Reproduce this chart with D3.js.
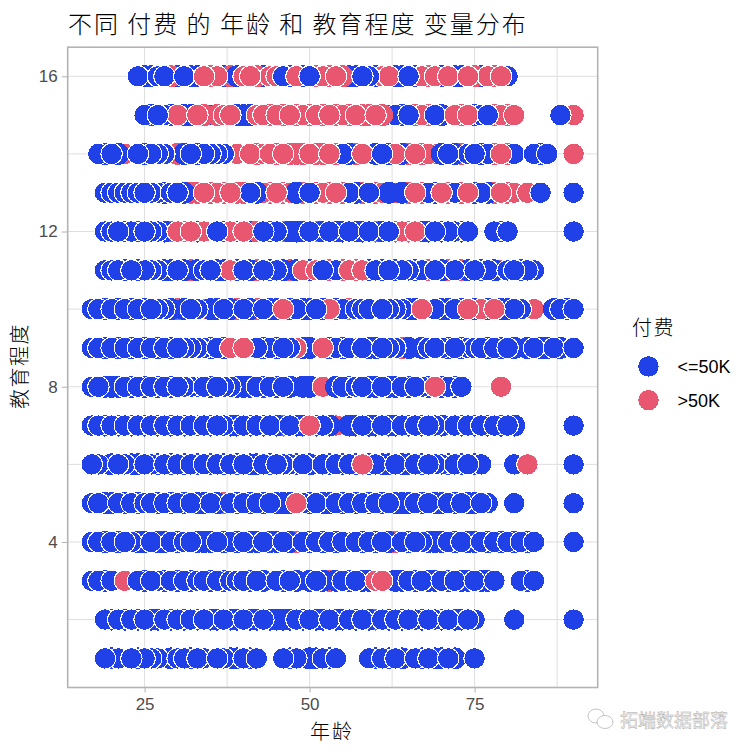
<!DOCTYPE html>
<html><head><meta charset="utf-8">
<script src="https://cdn.jsdelivr.net/npm/d3@7"></script>
<style>
html,body{margin:0;padding:0;background:#fff}
svg{display:block}
.cjk{font-family:"Noto Sans CJK SC","Noto Sans CJK JP",sans-serif;font-weight:300;fill:#000}
.lat{font-family:"Liberation Sans",Arial,sans-serif}
</style></head><body>
<svg id="c" width="753" height="753"></svg>
<script>
const payLevels = ["<=50K", ">50K"];
const L = payLevels[0], H = payLevels[1];
const payColors = ["#2040E8", "#E85670"];
const xMajor = [25, 50, 75], xMinor = [37.5, 62.5, 87.5];
const yMajor = [4, 8, 12, 16], yMinor = [2, 6, 10, 14];
const titleText = "不同 付费 的 年龄 和 教育程度 变量分布";
const xTitle = "年龄", yTitle = "教育程度", legendTitle = "付费", watermark = "拓端数据部落";

// Each education level: runs of [pay class, ages] in drawing order (later runs sit on top).
const edu16 = [
 [L,[24,25,26,27,30,32,33,37,43,47,49,56,57,60,63,64,66,70,72,73,76,80]],
 [H,[29,35,38,42,44,51,53,55,61,62,68,67,69,75,77,78]],
 [L,[28,31,39,59,58,65]],
 [H,[36,34,40,41,45]],
 [L,[46]],
 [H,[48,52,54,71,74,79]],
 [L,[50]]
];
const edu15 = [
 [L,[25,26,28,29,31,32,35,39,40,41,62,63,64,69,70,75,76]],
 [H,[30,34,36,38,42,44,46,48,49,50,51,52,54,55,56,58,59,61,66,67,68,73,78,80,90]],
 [L,[27,65,69]],
 [H,[33,37,38,43,45,47,53,57,60,72,74,79,81]],
 [L,[77,88]]
];
const edu14 = [
 [H,[22,30,39,42,43,45,47,48,49,51,52,54,57,65,67,69,68,73,78,80,90]],
 [L,[19,18,21,20,28,27,26,25,24,31,37,36,35,34,33,32,55,56,60,64,62,77,76,74,75,72,71,70,81,85,84,86]],
 [H,[41,44,46,50,53,58,63,66,79]],
 [L,[61]]
];
const edu13 = [
 [H,[32,33,35,37,39,40,43,44,46,47,49,51,52,53,55,58,60,61,63,65,67,71,73,78,80,81,83]],
 [L,[19,20,21,22,23,24,27,26,25,29,28,31,30,42,41,48,50,57,56,59,62,64,68,69,72,76,75,77,85,90]],
 [H,[36,34,38,45,54,66,70,74,79]]
];
const edu12 = [
 [H,[29,46,51,60,63]],
 [L,[19,20,24,23,22,21,28,27,26,25,33,37,39,41,44,45,47,49,48,52,54,55,57,58,61,67,68,70,72,71,73,78,79,90]],
 [H,[31,30,34,32,38,40,42,64,65,66]],
 [L,[36,43,50,53,56,59,62,69,74,80]]
];
const edu11 = [
 [H,[32,42,47,53,55,57,68,71,73,79]],
 [L,[19,20,21,22,27,26,25,24,29,28,31,33,34,36,37,39,41,44,46,45,48,50,54,59,61,63,67,66,65,64,70,72,74,78,77,76,80,84,83,82]],
 [H,[38,49,51,56,58]],
 [L,[23,30,35,40,43,52,60,62,69,75,81]]
];
const edu10 = [
 [H,[30,34,39,42,56,84]],
 [L,[17,19,18,21,20,23,22,25,24,28,27,26,29,31,33,32,36,35,38,37,41,40,44,43,45,47,48,50,49,52,55,54,57,58,59,64,63,62,61,65,66,69,70,71,72,73,75,77,79,80,82,81,87,89,88,90]],
 [H,[46,53,67,76,74,78]],
 [L,[51]]
];
const edu9 = [
 [L,[50,49]],
 [H,[48,57,64]],
 [L,[17,19,18,21,20,23,22,25,24,27,26,29,28,34,33,32,31,30,36,35,37,44,43,42,47,46,45,54,53,56,55,60,59,58,63,62,61,65,67,68,70,69,71,73,74,75,76,72,77,79,78,81,80,83,84,86,85,87,88,90]],
 [H,[38,40,52]]
];
const edu8 = [
 [L,[49,50]],
 [H,[52]],
 [L,[17,19,18,21,20,23,22,25,24,27,26,29,28,33,32,31,30,35,34,38,37,36,41,40,39,43,42,45,44,47,46,54,56,55,57,58,60,59,62,61,63,65,64,67,66,68,70,71,72,73]],
 [H,[69,79]]
];
const edu7 = [
 [H,[46,54]],
 [L,[17,19,18,21,20,22,23,25,24,27,26,29,28,31,30,33,32,35,34,38,37,36,39,41,40,43,42,45,44,48,47,49,51,53,52]],
 [H,[50]],
 [L,[56,57,59,58,60,63,62,61,65,64,67,66,70,69,68,73,72,75,74,77,76,79,78,81,80,90]]
];
const edu6 = [
 [L,[18,17,22,21,20,24,23,27,26,25,29,28,31,30,33,32,35,34,37,36,39,38,42,41,40,44,43,47,46,45,49,48,50,53,52,55,54,57,56,59,61,60,65,64,63,62,67,66,71,70,69,68,73,72,76,75,74,81,90]],
 [H,[58,83]]
];
const edu5 = [
 [H,[37]],
 [L,[17,19,18,20,22,21,24,23,25,27,26,29,28,31,30,33,32,34,36,35,39,38,41,40,43,42,45,44,47,46,50,49,52,51,53,55,54,57,56,59,58,61,60,63,62,65,64,67,66,68,70,69,72,71,74,73,75,77,76,81,90]],
 [H,[48]]
];
const edu4 = [
 [H,[48,63]],
 [L,[17,19,18,21,20,23,22,25,24,28,27,26,30,29,31,33,32,35,34,38,37,36,39,41,40,44,43,42,45,47,46,49,50,52,51,54,53,56,55,57,58,60,59,62,61,65,64,67,66,68,70,69,72,71,74,73,75,77,76,79,78,81,80,82,83,84,90]]
];
const edu3 = [
 [H,[53]],
 [L,[17,18,20,19]],
 [H,[22]],
 [L,[25,24,28,27,26,30,29,32,31,33,35,34,37,36,38,39,41,40,43,42,46,45,48,47,50,52,51,54,55,57,56,59,58,64,63,66,65,69,68,67,71,70,73,72,74,76,75,77,78,82,83,84]],
 [H,[60,61]]
];
const edu2 = [
 [H,[60]],
 [L,[19,21,20,24,23,22,26,25,29,28,27,31,30,33,32,35,34,38,37,36,39,41,40,44,43,42,46,45,49,48,47,51,50,54,53,52,55,57,56,59,58,62,61,64,63,66,65,67,69,68,72,71,70,73,75,74,81,90]]
];
const edu1 = [
 [L,[21,20,19,27,26,25,24,23,29,30,32,31,34,33,37,36,38,39,41,40,42,48,47,46,51,50,53,52,54,60,59,62,61,64,63,67,66,69,68,70,72,71,75]]
];
const eduRows = [edu1,edu2,edu3,edu4,edu5,edu6,edu7,edu8,edu9,edu10,edu11,edu12,edu13,edu14,edu15,edu16];

// Ages, per education level, where a point's outline is still readable in the overplot.
const visible1 = [19,21,23,25,26,27,30,31,33,34,36,37,40,42,46,48,49,52,54,59,61,63,66,68,71,75];
const visible2 = [19,21,23,25,28,30,32,34,37,40,43,48,50,53,56,58,61,63,65,66,68,69,71,74,75,81,90];
const visible3 = [17,18,20,22,24,26,27,29,31,33,34,36,38,39,40,42,45,47,49,51,55,57,60,61,65,67,70,72,75,78,82,84];
const visible4 = [17,18,20,22,23,26,29,31,32,36,38,40,43,46,49,51,53,55,56,57,59,61,64,66,67,71,73,76,78,80,82,84,90];
const visible5 = [17,18,21,23,25,26,28,30,32,35,38,40,42,44,48,49,51,54,56,58,60,62,66,68,71,73,76,77,81,90];
const visible6 = [17,18,21,22,25,26,28,30,32,34,36,38,40,43,45,46,47,49,52,54,56,58,60,63,66,68,69,70,72,74,76,81,83,90];
const visible7 = [17,18,20,22,24,26,28,30,32,33,34,36,37,40,42,44,47,50,52,54,58,61,64,66,68,69,72,74,76,78,80,90];
const visible8 = [17,18,22,24,26,28,30,31,32,33,34,36,37,38,42,44,46,52,55,57,58,61,64,66,67,69,71,73,79];
const visible9 = [17,18,20,22,24,26,28,30,31,32,33,34,36,38,40,42,44,46,47,48,52,54,56,57,58,61,62,63,66,68,69,70,72,74,75,76,78,80,82,84,87,90];
const visible10 = [17,18,20,22,24,26,27,28,32,33,34,37,40,43,46,48,51,53,55,57,58,59,61,62,63,64,67,69,72,74,76,78,81,82,84,88,90];
const visible11 = [19,20,21,23,25,26,27,30,34,35,38,40,43,45,49,51,52,54,56,58,60,62,64,65,67,69,72,75,77,79,80,81,83,84];
const visible12 = [19,20,21,23,25,26,27,30,32,34,36,38,39,40,43,45,50,53,56,59,62,64,66,69,71,72,74,78,80,90];
const visible13 = [19,20,21,22,23,24,25,26,27,29,30,34,36,38,41,43,45,47,50,52,54,56,59,61,63,66,68,70,72,74,76,79,81,83,85,90];
const visible14 = [18,20,22,24,26,27,28,32,34,35,36,37,39,41,43,44,46,50,53,55,58,61,63,66,68,69,71,74,75,77,79,81,84,86,90];
const visible15 = [25,27,28,30,33,35,37,38,42,43,45,47,49,51,53,55,57,60,62,63,65,67,69,72,74,76,77,79,81,88,90];
const visible16 = [24,27,28,31,34,36,40,41,44,45,46,48,50,52,54,58,59,61,62,65,67,69,71,74,77,79,80];
const visibleRows = [visible1,visible2,visible3,visible4,visible5,visible6,visible7,visible8,visible9,visible10,visible11,visible12,visible13,visible14,visible15,visible16];

const svg = d3.select("#c");
const pl = 67.7, pr = 597.7, pt = 47.2, pb = 687.5;
const x = d3.scaleLinear().domain([13.35, 93.65]).range([pl, pr]);
const y = d3.scaleLinear().domain([0.25, 16.75]).range([pb, pt]);
const color = d3.scaleOrdinal().domain(payLevels).range(payColors);

const grid = svg.append("g").attr("stroke", "#dedede").attr("stroke-width", 1);
grid.selectAll(".vg").data(xMajor.concat(xMinor)).join("line").attr("class","vg")
  .attr("x1", d => x(d)).attr("x2", d => x(d)).attr("y1", pt).attr("y2", pb);
grid.selectAll(".hg").data(yMajor.concat(yMinor)).join("line").attr("class","hg")
  .attr("x1", pl).attr("x2", pr).attr("y1", d => y(d)).attr("y2", d => y(d));

const marks = [];
eduRows.forEach((runs, i) => {
  const seen = new Set(visibleRows[i]);
  runs.forEach(([pay, ages]) => {
    // Within a run the points with no readable outline go down first.
    ages.filter(a => !seen.has(a)).forEach(age => marks.push({level: i + 1, pay, age, ring: false}));
    ages.filter(a => seen.has(a)).forEach(age => marks.push({level: i + 1, pay, age, ring: true}));
  });
});

svg.append("g").selectAll("circle").data(marks).join("circle")
  .attr("cx", d => x(d.age)).attr("cy", d => y(d.level)).attr("r", d => d.ring ? 10.7 : 11)
  .attr("fill", d => color(d.pay)).attr("stroke", d => d.ring ? "#fff" : "none").attr("stroke-width", 1)
  .attr("shape-rendering", "crispEdges");

svg.append("rect").attr("x", pl).attr("y", pt).attr("width", pr - pl).attr("height", pb - pt)
  .attr("fill", "none").attr("stroke", "#b3b3b3").attr("stroke-width", 1.6);

const xAxis = svg.append("g").attr("transform", `translate(0,${pb})`)
  .call(d3.axisBottom(x).tickValues(xMajor).tickSize(5).tickPadding(5));
const yAxis = svg.append("g").attr("transform", `translate(${pl},0)`)
  .call(d3.axisLeft(y).tickValues(yMajor).tickSize(6).tickPadding(4));
[xAxis, yAxis].forEach(a => {
  a.select(".domain").remove();
  a.selectAll("line").attr("stroke", "#b3b3b3");
  a.selectAll("text").attr("class","lat").attr("fill", "#4d4d4d").style("font-size", "17px");
});

svg.append("text").attr("class","cjk").attr("x", 68).attr("y", 33).style("font-size","24px")
  .style("letter-spacing","2px").text(titleText);
svg.append("text").attr("class","cjk").attr("x", 332).attr("y", 739).attr("text-anchor","middle")
  .style("font-size","20px").style("letter-spacing","2px").text(xTitle);
svg.append("text").attr("class","cjk").attr("transform","translate(27,366) rotate(-90)")
  .attr("text-anchor","middle").style("font-size","20px").style("letter-spacing","1.5px").text(yTitle);

svg.append("text").attr("class","cjk").attr("x", 632).attr("y", 335).style("font-size","20px")
  .style("letter-spacing","1.5px").text(legendTitle);
const lg = svg.append("g").selectAll("g").data(payLevels).join("g")
  .attr("transform", (d, i) => `translate(648.5,${366.5 + i * 33.7})`);
lg.append("circle").attr("r", 10.7).attr("fill", d => color(d)).attr("stroke","#fff").attr("stroke-width",1)
  .attr("shape-rendering","crispEdges");
lg.append("text").attr("class","lat").attr("x", 29).attr("y", 6.5).attr("fill","#000")
  .style("font-size","18px").text(d => d);

const wm = svg.append("g").attr("fill","none").attr("stroke","#b5b5b5").attr("stroke-width",0.8);
wm.append("ellipse").attr("cx",596).attr("cy",716).attr("rx",8).attr("ry",7);
wm.append("ellipse").attr("cx",605).attr("cy",722).attr("rx",8).attr("ry",6.5).attr("fill","#fff");
svg.append("text").attr("x",620).attr("y",727).style("font-family",'"Noto Sans CJK SC"').style("font-size","18px")
  .attr("fill","#f2f2f2").attr("stroke","#a8a8a8").attr("stroke-width",0.4).text(watermark);
</script>
</body></html>
